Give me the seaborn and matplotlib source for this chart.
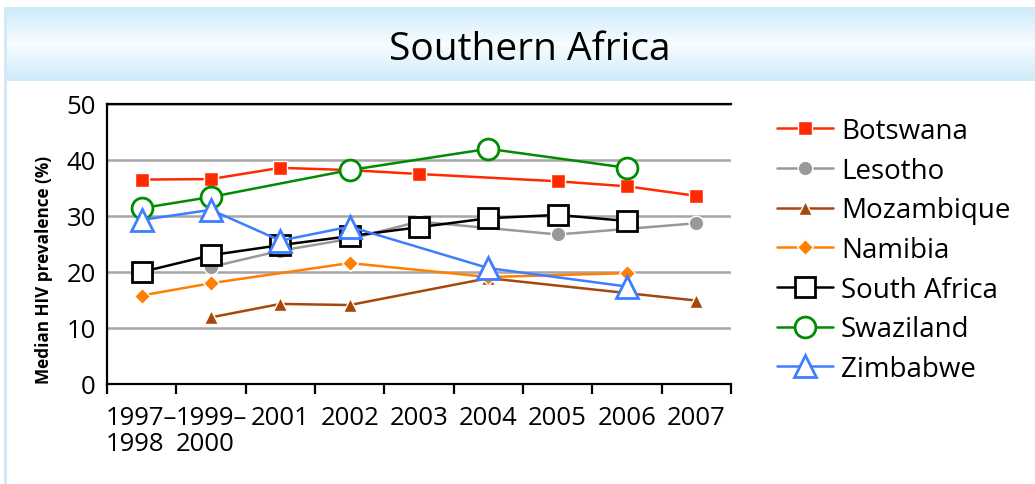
import numpy as np
import pandas as pd
import matplotlib.pyplot as plt
import seaborn as sns
from matplotlib.patches import Rectangle

# data
periods = ['1997–\n1998', '1999–\n2000', '2001', '2002', '2003', '2004', '2005', '2006', '2007']
countries = ['Botswana', 'Lesotho', 'Mozambique', 'Namibia', 'South Africa', 'Swaziland', 'Zimbabwe']
nan = np.nan
botswana = [36.5, 36.6, 38.6, 38.2, 37.5, nan, 36.2, 35.3, 33.6]
lesotho = [nan, 20.9, 23.8, 25.9, 29.0, nan, 26.7, nan, 28.7]
mozambique = [nan, 11.9, 14.3, 14.1, nan, 18.9, nan, nan, 14.9]
namibia = [15.8, 18.0, nan, 21.6, nan, 19.1, nan, 19.8, nan]
south_africa = [20.0, 23.0, 24.8, 26.4, 28.0, 29.6, 30.2, 29.1, nan]
swaziland = [31.4, 33.4, nan, 38.2, nan, 42.0, nan, 38.6, nan]
zimbabwe = [29.3, 31.1, 25.6, 28.1, nan, 20.7, nan, 17.4, nan]

series = [botswana, lesotho, mozambique, namibia, south_africa, swaziland, zimbabwe]
df = pd.DataFrame({
    'country': np.repeat(countries, len(periods)),
    'pos': np.tile(np.arange(len(periods)), len(countries)),
    'value': np.concatenate(series),
})

styles = {
    'Botswana': dict(color='#ff2a00', marker='s', markersize=10.5, markerfacecolor='#ff2a00', mec='white', mew=1),
    'Lesotho': dict(color='#999999', marker='o', markersize=10.5, markerfacecolor='#999999', mec='white', mew=1),
    'Mozambique': dict(color='#a8470a', marker='^', markersize=10.5, markerfacecolor='#a8470a', mec='white', mew=1),
    'Namibia': dict(color='#ff8000', marker='D', markersize=8.5, markerfacecolor='#ff8000', mec='white', mew=1),
    'South Africa': dict(color='black', marker='s', markersize=14, markerfacecolor='white', mec='black', mew=2),
    'Swaziland': dict(color='#008c00', marker='o', markersize=15, markerfacecolor='white', mec='#008c00', mew=2),
    'Zimbabwe': dict(color='#3d7dff', marker='^', markersize=16, markerfacecolor='white', mec='#3d7dff', mew=2),
}

sns.set_theme(style='white')
plt.rcParams['font.family'] = ['Open Sans', 'DejaVu Sans']
plt.rcParams['text.color'] = 'black'
plt.rcParams['xtick.color'] = 'black'
plt.rcParams['ytick.color'] = 'black'

fig = plt.figure(figsize=(10.35, 4.85), dpi=100)
fig.patch.set_facecolor('white')

# title band with a soft vertical gradient
band = fig.add_axes([4 / 1035, 1 - 82 / 485, 1 - 4 / 1035, 74 / 485])
grad = np.concatenate([np.linspace(0, 1, 50), np.linspace(1, 0, 50)])[:, None]
top = np.array([0.81, 0.92, 0.98])
mid = np.array([0.97, 0.99, 1.0])
img = top[None, None, :] * (1 - grad[..., None]) + mid[None, None, :] * grad[..., None]
band.imshow(img, aspect='auto', extent=[0, 1, 0, 1])
band.axis('off')
fig.add_artist(Rectangle((4 / 1035, 0), 3 / 1035, 1 - 8 / 485, transform=fig.transFigure,
                         facecolor='#d2eaf8', edgecolor='none'))
fig.text(530 / 1035, 1 - 50 / 485, 'Southern Africa', ha='center', va='center', fontsize=28)

ax = fig.add_axes([107 / 1035, 1 - 385 / 485, (731 - 107) / 1035, (385 - 105) / 485])
for name in countries:
    sub = df[df['country'] == name].dropna()
    sns.lineplot(data=sub, x='pos', y='value', ax=ax, label=name, sort=False,
                 estimator=None, errorbar=None, linewidth=1.8, **styles[name])

ax.set_xlim(-0.5, len(periods) - 0.5)
ax.set_ylim(0, 50)
ax.set_yticks(range(0, 51, 10))
ax.yaxis.grid(True, color='#a6a6a6', linewidth=1.8)
ax.set_axisbelow(True)
ax.set_xticks(np.arange(-0.5, len(periods)), labels=[])
ax.set_xticks(np.arange(len(periods)), labels=periods, minor=True)
ax.tick_params(axis='x', which='major', direction='out', length=7, width=1.6, color='black', bottom=True)
ax.tick_params(axis='x', which='minor', length=0, pad=15, labelsize=18.5)
ax.tick_params(axis='y', length=0, pad=8, labelsize=18.5)
for lbl in ax.get_xticklabels(minor=True):
    lbl.set_multialignment('left')
    lbl.set_linespacing(1.05)
for side in ['left', 'bottom', 'top']:
    ax.spines[side].set_color('black')
    ax.spines[side].set_linewidth(1.6)
ax.spines['right'].set_visible(False)
ax.set_xlabel('')
ax.set_ylabel('')
fig.text(44 / 1035, 1 - 270 / 485, 'Median HIV prevalence (%)', rotation=90,
         ha='center', va='center', fontsize=12.3, fontweight='bold')

handles, labels = ax.get_legend_handles_labels()
ax.legend(handles, labels, loc='upper left', bbox_to_anchor=(777 / 1035, 1 - 118 / 485),
          bbox_transform=fig.transFigure, frameon=False, fontsize=20,
          handlelength=2.0, handletextpad=0.3, labelspacing=0.42, borderaxespad=0,
          borderpad=0)

fig.savefig('out.png', dpi=100)
